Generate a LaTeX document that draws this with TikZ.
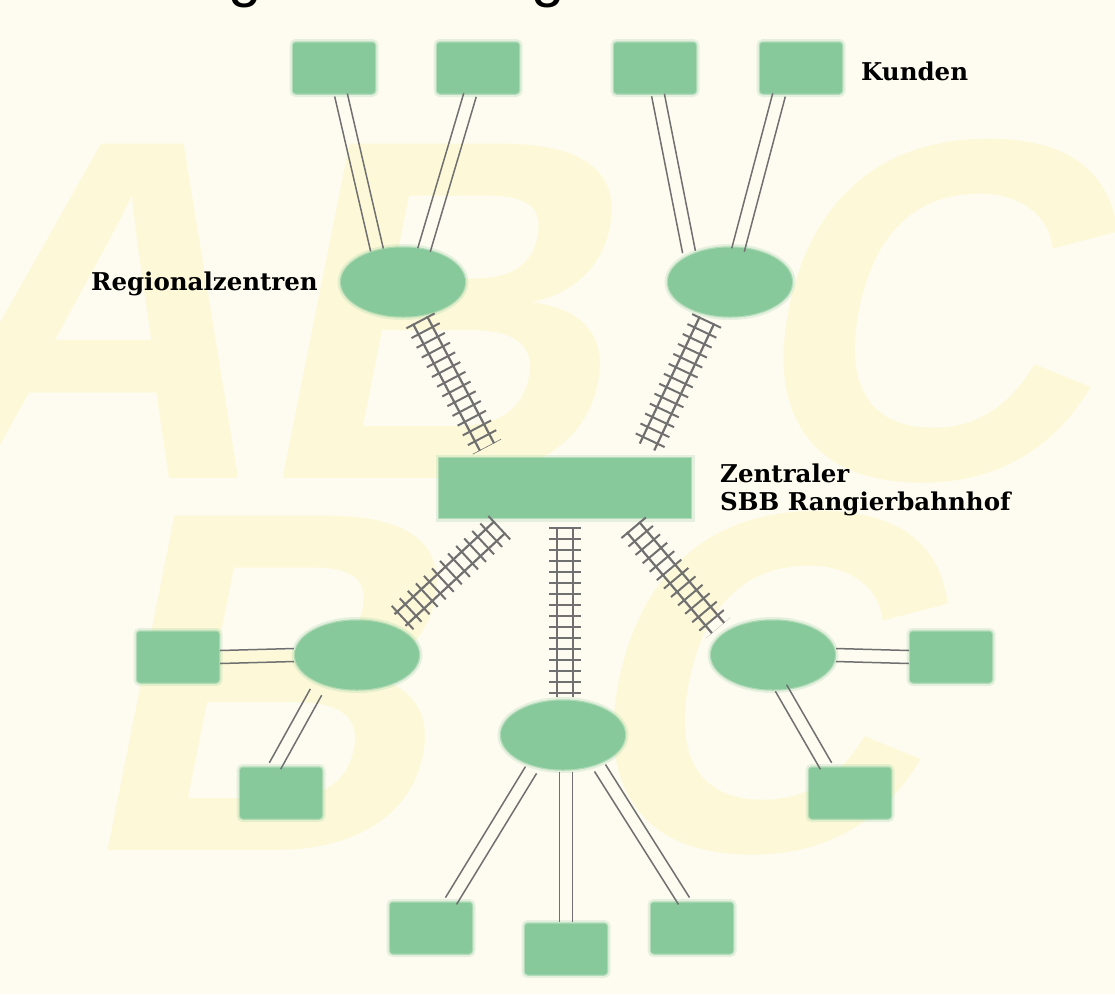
\documentclass[tikz,border=0pt]{standalone}
\usepackage{fontspec}
\setmainfont{DejaVu Serif}
\newfontfamily\wmfont{Liberation Sans Bold}[FakeSlant=0.2]
\newfontfamily\titlefont{Liberation Sans}
\usetikzlibrary{calc,shapes.geometric}
\definecolor{bgc}{HTML}{FEFCF0}
\definecolor{wmc}{HTML}{FDF9D8}
\definecolor{ngreen}{HTML}{88C99B}
\definecolor{lgrey}{HTML}{707070}
\tikzset{
  cust/.style={rectangle, rounded corners=3pt, minimum width=82pt, minimum height=51pt, inner sep=0pt,
    fill=ngreen, draw=ngreen, draw opacity=0.55, line width=2.5pt,
    preaction={draw=ngreen, draw opacity=0.22, line width=7pt}},
  regio/.style={ellipse, minimum width=124pt, minimum height=69pt, inner sep=0pt,
    fill=ngreen, draw=ngreen, draw opacity=0.55, line width=2.5pt,
    preaction={draw=ngreen, draw opacity=0.22, line width=7pt}},
  hub/.style={rectangle, minimum width=252pt, minimum height=60pt, inner sep=0pt,
    fill=ngreen, draw=ngreen, draw opacity=0.55, line width=2.5pt,
    preaction={draw=ngreen, draw opacity=0.22, line width=7pt}},
  wire/.style={draw=lgrey, line width=1.5pt},
  tie/.style={draw=lgrey, line width=32pt, dash pattern=on 2pt off 9pt},
  rail/.style={draw=lgrey, line width=2.2pt},
  lbl/.style={font=\bfseries\fontsize{24.5}{28}\selectfont, inner sep=0pt, text=black},
  wmtext/.style={text=wmc, inner sep=0pt, anchor=base west, font=\wmfont\fontsize{486}{486}\selectfont}
}
\newcommand\dblline[2]{%
  \draw[wire] ($(#1)!6.5pt!90:(#2)$) -- ($(#2)!6.5pt!-90:(#1)$);
  \draw[wire] ($(#1)!6.5pt!-90:(#2)$) -- ($(#2)!6.5pt!90:(#1)$);}
\newcommand\railtrack[2]{%
  \draw[tie] (#1) -- (#2);
  \draw[rail] ($(#1)!8pt!90:(#2)$) -- ($(#2)!8pt!-90:(#1)$);
  \draw[rail] ($(#1)!8pt!-90:(#2)$) -- ($(#2)!8pt!90:(#1)$);}
\begin{document}
\begin{tikzpicture}[x=1pt,y=-1pt]
\useasboundingbox (0,0) rectangle (1115,994);
\fill[bgc] (0,0) rectangle (1115,994);
% watermark
\node[wmtext] (wA1) at (-100,478) {A};
\node[wmtext] (wB1) at (250,478) {B};
\node[wmtext] (wC1) at (735,478) {C};
\node[wmtext] (wB2) at (75,850) {B};
\node[wmtext] (wC2) at (565,850) {C};
% cut-off title
\node[anchor=base, inner sep=0pt, font=\titlefont\fontsize{60}{60}\selectfont] (tg1) at (245,-5) {g};
\node[anchor=base, inner sep=0pt, font=\titlefont\fontsize{60}{60}\selectfont] (tg2) at (548,-5) {g};
% nodes
\node[cust] (c1) at (334,68) {};
\node[cust] (c2) at (478,68) {};
\node[cust] (c3) at (655,68) {};
\node[cust] (c4) at (801,68) {};
\node[regio] (r1) at (403,282) {};
\node[regio] (r2) at (730,282) {};
\node[hub] (z) at (565,488) {};
\node[regio] (b1) at (357,655) {};
\node[regio] (b2) at (563,735) {};
\node[regio] (b3) at (773,655) {};
\node[cust] (d1) at (178,657) {};
\node[cust] (d2) at (281,793) {};
\node[cust] (d5) at (951,657) {};
\node[cust] (d6) at (850,793) {};
\node[cust] (e1) at (431,928) {};
\node[cust] (e2) at (566,949) {};
\node[cust] (e3) at (692,928) {};
% connector end points
\coordinate (p1a) at ($(c1)+(7,27)$);   \coordinate (p1b) at ($(r1)+(-26,-32)$);
\coordinate (p2a) at ($(c2)+(-8,27)$);  \coordinate (p2b) at ($(r1)+(21,-32)$);
\coordinate (p3a) at ($(c3)+(3,27)$);   \coordinate (p3b) at ($(r2)+(-41,-30)$);
\coordinate (p4a) at ($(c4)+(-22,27)$); \coordinate (p4b) at ($(r2)+(8,-32)$);
\coordinate (p5a) at ($(d1)+(42,0)$);   \coordinate (p5b) at ($(b1)+(-63,0)$);
\coordinate (p6a) at ($(b1)+(-41,37)$); \coordinate (p6b) at ($(d2)+(-6,-27)$);
\coordinate (p7a) at ($(b3)+(63,0)$);   \coordinate (p7b) at ($(d5)+(-42,0)$);
\coordinate (p8a) at ($(b3)+(8,33)$);   \coordinate (p8b) at ($(d6)+(-24,-27)$);
\coordinate (p9a) at ($(b2)+(-32,35)$); \coordinate (p9b) at ($(e1)+(20,-27)$);
\coordinate (p10a) at ($(b2)+(3,37)$);  \coordinate (p10b) at ($(e2)+(0,-27)$);
\coordinate (p11a) at ($(b2)+(37,33)$); \coordinate (p11b) at ($(e3)+(-8,-27)$);
\dblline{p1a}{p1b}
\dblline{p2a}{p2b}
\dblline{p3a}{p3b}
\dblline{p4a}{p4b}
\dblline{p5a}{p5b}
\dblline{p6a}{p6b}
\dblline{p7a}{p7b}
\dblline{p8a}{p8b}
\dblline{p9a}{p9b}
\dblline{p10a}{p10b}
\dblline{p11a}{p11b}
% rail tracks
\coordinate (t1a) at ($(r1)+(17,38)$);  \coordinate (t1b) at ($(z)+(-78,-41)$);
\coordinate (t2a) at ($(r2)+(-23,38)$); \coordinate (t2b) at ($(z)+(82,-41)$);
\coordinate (t3a) at ($(z)+(-65,39)$);  \coordinate (t3b) at ($(b1)+(43,-35)$);
\coordinate (t4a) at ($(z)+(0,39)$);    \coordinate (t4b) at ($(b2)+(2,-38)$);
\coordinate (t5a) at ($(z)+(68,39)$);   \coordinate (t5b) at ($(b3)+(-55,-27)$);
\railtrack{t1a}{t1b}
\railtrack{t2a}{t2b}
\railtrack{t3a}{t3b}
\railtrack{t4a}{t4b}
\railtrack{t5a}{t5b}
% labels
\node[lbl, anchor=base west] (kunden) at (861,80) {Kunden};
\node[lbl, anchor=base east] (regio) at (318,290) {Regionalzentren};
\node[lbl, anchor=base west, align=left] (zentral) at (720,510) {Zentraler\\SBB Rangierbahnhof};
\end{tikzpicture}
\end{document}
